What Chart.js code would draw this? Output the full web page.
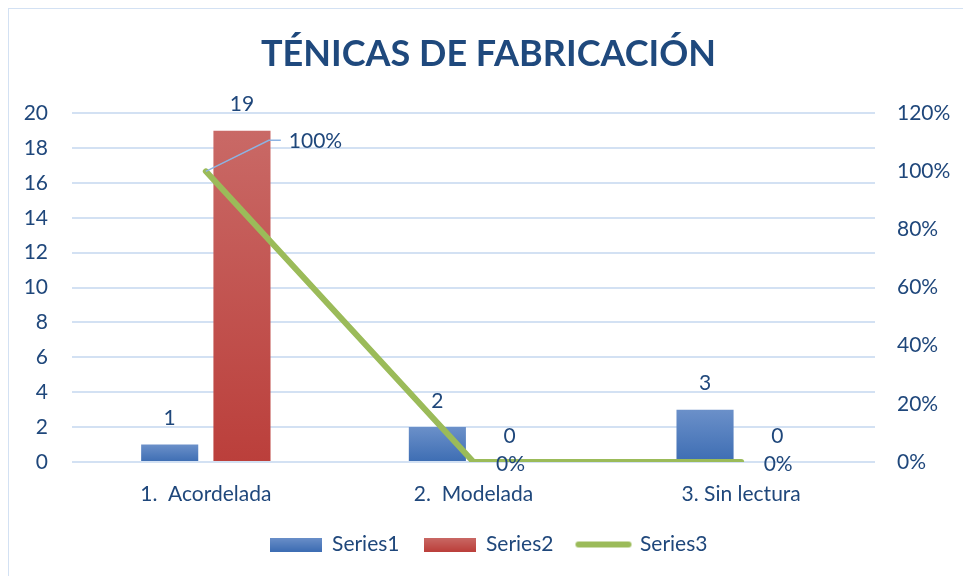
<!DOCTYPE html>
<html>
<head>
<meta charset="utf-8">
<script src="https://cdn.jsdelivr.net/npm/chart.js@4"></script>
<style>
	body { margin: 0; background: #fff; }
	#frame { position: absolute; left: 8px; top: 8px; width: 980px; height: 600px; border: 1px solid #d3e1f3; }
	#wrap { position: absolute; left: 0; top: 0; width: 963px; height: 576px; }
</style>
</head>
<body>
<div id="frame"></div>
<div id="wrap"><canvas id="chart" width="963" height="576"></canvas></div>
<script>
//chart data
var categories = ["1.  Acordelada", "2.  Modelada", "3. Sin lectura"];
var series1 = [1, 2, 3];
var series2 = [19, 0, 0];
var series3 = [1, 0, 0];
var leftTicks = [0, 20, 2];
var rightTicks = [0, 1.2, 0.2];

var textColor = "#1f477b";
var gridColor = "#d3e1f3";
var green = "#9bbb59";
var tickFont = { family: "Lato", size: 21 };

//vertical gradient for one bar, from its top down to zero
function barGradient( top, bottom ){
	return function( ctx ){
		var chart = ctx.chart, y = chart.scales.y;
		if( !y || ctx.type !== "data" ) return bottom;
		var y0 = y.getPixelForValue( 0 ), y1 = y.getPixelForValue( ctx.raw );
		if( !isFinite( y0 ) || !isFinite( y1 ) || y0 === y1 ) return bottom;
		var g = chart.ctx.createLinearGradient( 0, y1, 0, y0 );
		g.addColorStop( 0, top );
		g.addColorStop( 1, bottom );
		return g;
	};
}

//little canvases used as legend markers
function legendBox( top, bottom ){
	var c = document.createElement("canvas");
	c.width = 52; c.height = 14;
	var x = c.getContext("2d");
	var g = x.createLinearGradient( 0, 0, 0, 14 );
	g.addColorStop( 0, top );
	g.addColorStop( 1, bottom );
	x.fillStyle = g;
	x.fillRect( 0, 0, 52, 14 );
	return c;
}
function legendLine(){
	var c = document.createElement("canvas");
	c.width = 58; c.height = 8;
	var x = c.getContext("2d");
	x.strokeStyle = green;
	x.lineWidth = 6;
	x.lineCap = "round";
	x.beginPath();
	x.moveTo( 4, 4 );
	x.lineTo( 54, 4 );
	x.stroke();
	return c;
}
var legendIcons = [ legendBox("#6b90c9", "#3d6db3"), legendBox("#c96966", "#bb3f3b"), legendLine() ];

//value labels drawn next to the marks
var valueLabels = {
	id: "valueLabels",
	afterDatasetsDraw: function( chart ){
		var ctx = chart.ctx;
		ctx.save();
		ctx.font = tickFont.size + "px " + tickFont.family;
		ctx.fillStyle = textColor;
		ctx.textBaseline = "middle";
		ctx.textAlign = "center";
		[0, 1].forEach(function( d ){
			chart.getDatasetMeta( d ).data.forEach(function( bar, i ){
				ctx.fillText( chart.data.datasets[d].data[i], bar.x, bar.y - 26 );
			});
		});
		var meta = chart.getDatasetMeta( 2 );
		meta.data.forEach(function( pt, i ){
			var txt = Math.round( series3[i] * 100 ) + "%";
			if( series3[i] > 0 ){
				ctx.strokeStyle = "#8db3e2";
				ctx.lineWidth = 1.5;
				ctx.beginPath();
				ctx.moveTo( pt.x, pt.y );
				ctx.lineTo( pt.x + 63, pt.y - 31 );
				ctx.lineTo( pt.x + 75, pt.y - 31 );
				ctx.stroke();
				ctx.textAlign = "left";
				ctx.fillText( txt, pt.x + 83, pt.y - 30 );
			} else {
				ctx.textAlign = "center";
				ctx.fillText( txt, pt.x + 37, pt.y + 2 );
			}
		});
		ctx.restore();
	}
};

var chart = new Chart( document.getElementById("chart"), {
	type: "bar",
	data: {
		labels: categories,
		datasets: [{
			label: "Series1",
			data: series1,
			backgroundColor: barGradient( "#6b90c9", "#3d6db3" ),
			yAxisID: "y",
			order: 1
		},{
			label: "Series2",
			data: series2,
			backgroundColor: barGradient( "#c96966", "#bb3f3b" ),
			yAxisID: "y",
			order: 1
		},{
			type: "line",
			label: "Series3",
			data: series3,
			borderColor: green,
			backgroundColor: green,
			borderWidth: 6,
			borderCapStyle: "round",
			borderJoinStyle: "round",
			pointRadius: 0,
			yAxisID: "y1",
			order: 0
		}]
	},
	options: {
		responsive: false,
		animation: false,
		categoryPercentage: 0.54,
		barPercentage: 0.79,
		layout: { padding: { left: 14, right: 0, top: 0, bottom: 11 } },
		plugins: {
			title: {
				display: true,
				text: "TÉNICAS DE FABRICACIÓN",
				color: "#1f497d",
				font: { family: "Lato", size: 36, weight: "bold" },
				padding: { top: 33, bottom: 37 }
			},
			legend: {
				position: "bottom",
				labels: {
					color: textColor,
					font: tickFont,
					usePointStyle: true,
					pointStyleWidth: 52,
					padding: 24,
					generateLabels: function( chart ){
						return chart.data.datasets.map(function( ds, i ){
							return { text: ds.label, pointStyle: legendIcons[i], fillStyle: "transparent",
								strokeStyle: "transparent", lineWidth: 0, hidden: false, datasetIndex: i, fontColor: textColor };
						});
					}
				}
			},
			tooltip: { enabled: false }
		},
		scales: {
			x: {
				grid: { display: false },
				border: { display: false },
				ticks: { color: textColor, font: tickFont, padding: 12 },
				afterFit: function( s ){ s.height = 48; }
			},
			y: {
				position: "left",
				min: leftTicks[0], max: leftTicks[1],
				ticks: { stepSize: leftTicks[2], color: textColor, font: tickFont, padding: 24 },
				grid: { color: gridColor, lineWidth: 2, drawTicks: false },
				border: { display: false },
				afterFit: function( s ){ s.width = 58; }
			},
			y1: {
				position: "right",
				min: rightTicks[0], max: rightTicks[1],
				ticks: { stepSize: rightTicks[2], color: textColor, font: tickFont, padding: 22,
					callback: function( v ){ return Math.round( v * 100 ) + "%"; } },
				grid: { display: false, drawTicks: false },
				border: { display: false },
				afterFit: function( s ){ s.width = 88; }
			}
		}
	},
	plugins: [ valueLabels ]
});
</script>
</body>
</html>
